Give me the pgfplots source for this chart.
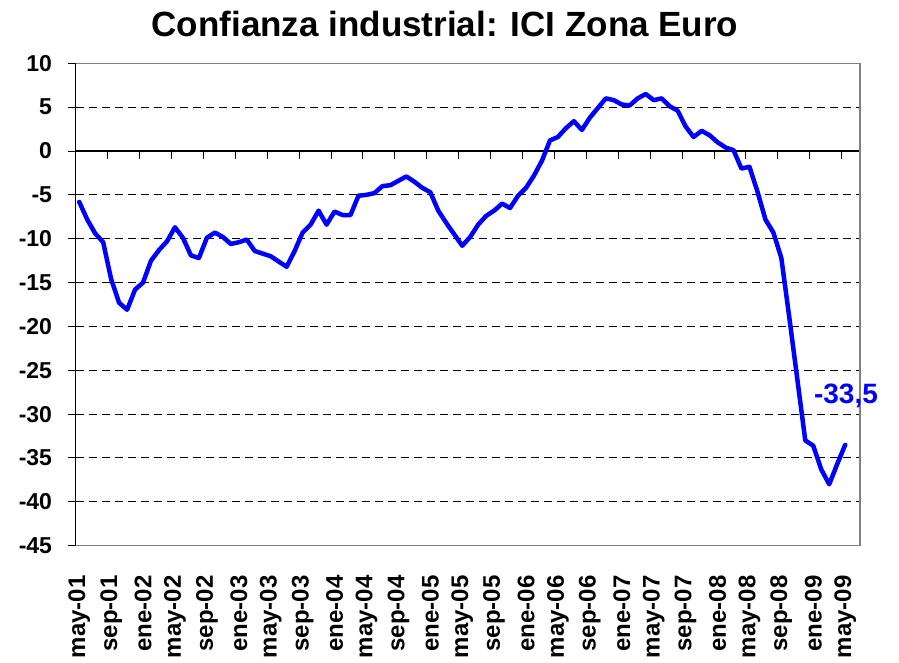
\documentclass[border=0pt]{standalone}
\usepackage{pgfplots}
\pgfplotsset{compat=1.18}
\usepackage{fontspec}
\setmainfont{Liberation Sans}
\definecolor{linebl}{RGB}{0,0,255}
\definecolor{bordergray}{RGB}{128,128,128}
\begin{document}
\begin{tikzpicture}
\begin{axis}[
  at={(75.7pt,116.3pt)}, anchor=south west,
  scale only axis, width=784.3pt, height=482.4pt,
  xmin=-0.44, xmax=97.86, ymin=-45, ymax=10,
  axis line style={draw=none},
  ytick={-45,-40,-35,-30,-25,-20,-15,-10,-5,0,5,10},
  yticklabels={-45,-40,-35,-30,-25,-20,-15,-10,-5,0,5,10},
  ytick pos=left, tick align=center, major tick length=15pt,
  ytick style={black, line width=1pt},
  yticklabel style={font=\fontsize{23}{23}\selectfont\bfseries, inner sep=0pt, anchor=east},
  yticklabel shift=16pt,
  xtick={0,4,...,96},
  xticklabels={may-01,sep-01,ene-02,may-02,sep-02,ene-03,may-03,sep-03,ene-04,may-04,sep-04,ene-05,may-05,sep-05,ene-06,may-06,sep-06,ene-07,may-07,sep-07,ene-08,may-08,sep-08,ene-09,may-09},
  xtick style={draw=none},
  xticklabel style={font=\fontsize{24}{24}\selectfont\bfseries, rotate=90, anchor=east, inner sep=0pt},
  xticklabel shift=22pt,
  ymajorgrids,
  grid style={black, line width=1pt, dash pattern=on 8pt off 5pt},
  clip=false,
]
\draw[black, line width=1.3pt] (rel axis cs:0,0) -- (rel axis cs:0,1);
\draw[black, line width=1.3pt] (axis cs:-0.44,0) -- (axis cs:97.86,0);
\pgfplotsinvokeforeach{1,...,24}{\draw[black, line width=1pt] (axis cs:{-0.44+4*#1},0) -- ++(0pt,-8pt);}
\draw[bordergray, line width=1.5pt] (rel axis cs:0,1) -- (rel axis cs:1,1) -- (rel axis cs:1,0) -- (rel axis cs:0,0);
\addplot[linebl, line width=4.5pt, line join=round, line cap=round, mark=none] coordinates {
(0,-5.8) (1,-7.8) (2,-9.4) (3,-10.4) (4,-14.6) (5,-17.3) (6,-18.1) (7,-15.8) (8,-15.0) (9,-12.5)
(10,-11.3) (11,-10.3) (12,-8.7) (13,-9.9) (14,-11.9) (15,-12.2) (16,-9.9) (17,-9.3) (18,-9.8) (19,-10.6)
(20,-10.4) (21,-10.1) (22,-11.4) (23,-11.7) (24,-12.0) (25,-12.6) (26,-13.2) (27,-11.4) (28,-9.3) (29,-8.4)
(30,-6.8) (31,-8.4) (32,-6.9) (33,-7.3) (34,-7.3) (35,-5.1) (36,-5.0) (37,-4.8) (38,-4.0) (39,-3.9)
(40,-3.4) (41,-2.9) (42,-3.5) (43,-4.2) (44,-4.7) (45,-6.8) (46,-8.2) (47,-9.5) (48,-10.8) (49,-9.8)
(50,-8.4) (51,-7.4) (52,-6.8) (53,-6.0) (54,-6.5) (55,-5.1) (56,-4.2) (57,-2.8) (58,-1.1) (59,1.2)
(60,1.6) (61,2.6) (62,3.4) (63,2.4) (64,3.8) (65,4.9) (66,6.0) (67,5.8) (68,5.3) (69,5.2)
(70,6.0) (71,6.5) (72,5.8) (73,6.0) (74,5.1) (75,4.6) (76,2.8) (77,1.6) (78,2.3) (79,1.8)
(80,1.0) (81,0.4) (82,0.1) (83,-2.0) (84,-1.8) (85,-4.6) (86,-7.8) (87,-9.3) (88,-12.2) (89,-19.0)
(90,-26.0) (91,-33.0) (92,-33.6) (93,-36.3) (94,-38.0) (95,-35.7) (96,-33.5)
};
\end{axis}
\node[anchor=base, inner sep=0pt, font=\fontsize{35}{35}\selectfont\bfseries] at (445pt,625.3pt) {Confianza industrial: ICI Zona Euro};
\node[anchor=base, inner sep=0pt, text=linebl, font=\fontsize{28}{28}\selectfont\bfseries] at (846pt,259pt) {-33,5};
\path (0pt,0pt) rectangle (899pt,662pt);
\end{tikzpicture}
\end{document}
